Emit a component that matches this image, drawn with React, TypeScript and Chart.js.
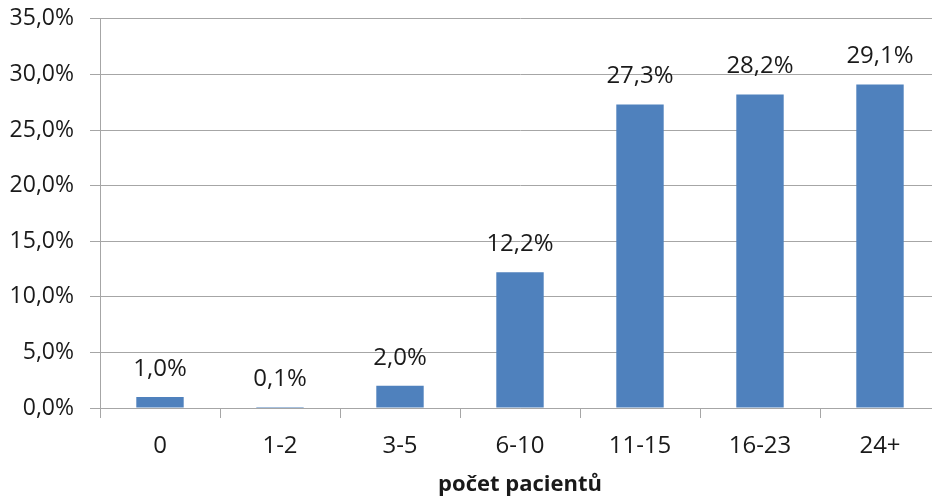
import React, { useEffect, useRef } from "react";
import { Chart, registerables } from "chart.js";

Chart.register(...registerables);

const categories = ["0", "1-2", "3-5", "6-10", "11-15", "16-23", "24+"];
const values = [1.0, 0.1, 2.0, 12.2, 27.3, 28.2, 29.1];
const yMin = 0;
const yMax = 35;
const yStep = 5;
const xTitle = "počet pacientů";

const FONT = "'Open Sans', 'Noto Sans', sans-serif";
const TEXT = "#1a1a1a";
const GRID = "#a6a6a6";
const BAR = "#4f81bd";

const fmt = (v: number) => v.toFixed(1).replace(".", ",") + "%";

const labelPlugin = {
  id: "barLabels",
  afterDatasetsDraw(chart: any) {
    const ctx = chart.ctx;
    const meta = chart.getDatasetMeta(0);
    ctx.save();
    ctx.font = `24px ${FONT}`;
    ctx.fillStyle = TEXT;
    ctx.textAlign = "center";
    ctx.textBaseline = "middle";
    meta.data.forEach((bar: any, i: number) => {
      ctx.fillText(fmt(values[i]), bar.x, bar.y - 28);
    });
    ctx.restore();
  },
};

export default function App() {
  const ref = useRef<HTMLCanvasElement>(null);
  useEffect(() => {
    if (!ref.current) return;
    const chart = new Chart(ref.current, {
      type: "bar",
      data: {
        labels: categories,
        datasets: [
          {
            data: values,
            backgroundColor: BAR,
            categoryPercentage: 1,
            barPercentage: 0.395,
          },
        ],
      },
      options: {
        responsive: false,
        animation: false,
        devicePixelRatio: 1,
        layout: { padding: { top: 0, right: 2, bottom: 0, left: 0 } },
        plugins: {
          legend: { display: false },
          tooltip: { enabled: false },
          title: { display: false },
        },
        scales: {
          x: {
            grid: {
              drawOnChartArea: false,
              drawTicks: true,
              tickLength: 10,
              color: GRID,
              offset: true,
            },
            border: { color: GRID, width: 1 },
            ticks: {
              color: TEXT,
              font: { family: FONT, size: 24 },
              padding: 14,
              maxRotation: 0,
            },
            title: {
              display: true,
              text: xTitle,
              color: TEXT,
              font: { family: FONT, size: 22, weight: "bold" },
              padding: { top: 0, bottom: 3 },
            },
            afterFit: (scale: any) => {
              scale.height = 93;
            },
          },
          y: {
            min: yMin,
            max: yMax,
            grid: { color: GRID, tickLength: 10, drawTicks: true },
            border: { color: GRID, width: 1 },
            ticks: {
              stepSize: yStep,
              color: TEXT,
              font: { family: FONT, size: 23 },
              padding: 16,
              callback: (v: any) => fmt(Number(v)),
            },
            afterFit: (scale: any) => {
              scale.width = 100;
            },
          },
        },
      },
      plugins: [labelPlugin],
    });
    return () => chart.destroy();
  }, []);
  return (
    <div
      style={{
        position: "fixed",
        left: 0,
        top: 0,
        width: 932,
        height: 501,
        overflow: "hidden",
        background: "#fff",
      }}
    >
      <canvas
        ref={ref}
        width={942}
        height={512}
        style={{ display: "block", position: "absolute", left: 0, top: -11 }}
      />
    </div>
  );
}
